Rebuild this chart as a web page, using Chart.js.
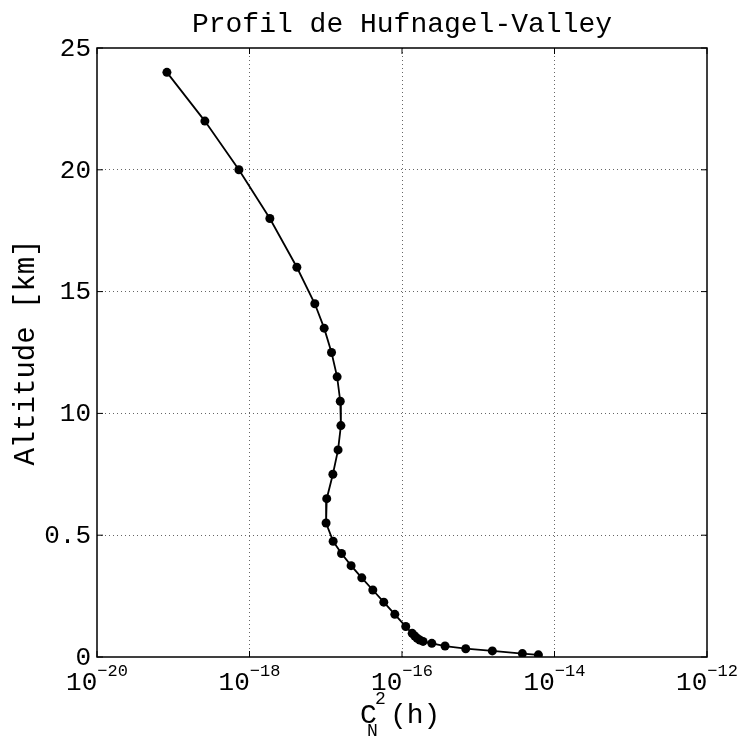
<!DOCTYPE html>
<html>
<head>
<meta charset="utf-8">
<script src="https://cdn.jsdelivr.net/npm/chart.js@4/dist/chart.umd.min.js"></script>
<style>
  html, body { margin: 0; padding: 0; background: #fff; }
  #wrap { width: 739px; height: 738px; }
</style>
</head>
<body>
<div id="wrap"><canvas id="c" width="739" height="738"></canvas></div>
<script>
// ---- data ----
const chartTitle = 'Profil de Hufnagel-Valley';
const yAxisTitle = 'Altitude [km]';
// vertical position on the altitude axis (axis units, as plotted)
const altitudeAxis = [24, 22, 20, 18, 16, 14.5, 13.5, 12.5, 11.5, 10.5,
  9.5, 8.5, 7.5, 6.5, 5.5, 4.75, 4.25, 3.75, 3.25, 2.75,
  2.25, 1.75, 1.25, 0.97, 0.86, 0.77, 0.70, 0.64, 0.56, 0.45,
  0.34, 0.25, 0.14, 0.09];
// Cn^2(h) values
const cn2Values = [8.26e-20, 2.60e-19, 7.26e-19, 1.85e-18, 4.18e-18, 7.19e-18, 9.53e-18, 1.19e-17, 1.41e-17, 1.55e-17,
  1.58e-17, 1.45e-17, 1.24e-17, 1.03e-17, 1.01e-17, 1.25e-17, 1.61e-17, 2.15e-17, 2.97e-17, 4.14e-17,
  5.77e-17, 8.05e-17, 1.12e-16, 1.36e-16, 1.47e-16, 1.58e-16, 1.71e-16, 1.89e-16, 2.46e-16, 3.67e-16,
  6.85e-16, 1.53e-15, 3.79e-15, 6.15e-15];
const yTickValues = [0, 5, 10, 15, 20, 25];
const yTickLabels = ['0', '0.5', '10', '15', '20', '25'];
const xTickValues = [1e-20, 1e-18, 1e-16, 1e-14, 1e-12];
const xTickExponents = ['\u221220', '\u221218', '\u221216', '\u221214', '\u221212'];

const FONT = '"Liberation Mono", "DejaVu Sans Mono", monospace';

const matlabDecor = {
  id: 'matlabDecor',
  afterDraw(chart) {
    const { ctx, chartArea: a, scales: { x, y } } = chart;
    ctx.save();
    // box
    ctx.strokeStyle = '#000';
    ctx.lineWidth = 1.5;
    ctx.strokeRect(a.left, a.top, a.right - a.left, a.bottom - a.top);
    // inward tick marks
    const tl = 6;
    ctx.lineWidth = 1;
    ctx.beginPath();
    xTickValues.forEach(v => {
      const px = x.getPixelForValue(v);
      ctx.moveTo(px, a.bottom); ctx.lineTo(px, a.bottom - tl);
      ctx.moveTo(px, a.top); ctx.lineTo(px, a.top + tl);
    });
    yTickValues.forEach(v => {
      const py = y.getPixelForValue(v);
      ctx.moveTo(a.left, py); ctx.lineTo(a.left + tl, py);
      ctx.moveTo(a.right, py); ctx.lineTo(a.right - tl, py);
    });
    ctx.stroke();

    ctx.fillStyle = '#000';
    // title
    ctx.font = '28px ' + FONT;
    ctx.textAlign = 'center';
    ctx.textBaseline = 'alphabetic';
    ctx.fillText(chartTitle, (a.left + a.right) / 2, 32);

    // y tick labels
    ctx.font = '26px ' + FONT;
    ctx.textAlign = 'right';
    ctx.textBaseline = 'middle';
    yTickValues.forEach((v, i) => {
      ctx.fillText(yTickLabels[i], a.left - 6, y.getPixelForValue(v) + 1);
    });

    // x tick labels: 10^exp
    ctx.textAlign = 'left';
    ctx.textBaseline = 'alphabetic';
    xTickValues.forEach((v, i) => {
      const px = x.getPixelForValue(v);
      ctx.font = '26px ' + FONT;
      const wBase = ctx.measureText('10').width;
      ctx.font = '17px ' + FONT;
      const wExp = ctx.measureText(xTickExponents[i]).width;
      const start = px - (wBase + wExp) / 2;
      ctx.font = '26px ' + FONT;
      ctx.fillText('10', start, 690);
      ctx.font = '17px ' + FONT;
      ctx.fillText(xTickExponents[i], start + wBase, 676);
    });

    // x axis title: C_N^2(h)
    const cx = (a.left + a.right) / 2;
    const s0 = cx - 42;
    ctx.font = '28px ' + FONT;
    ctx.fillText('C', s0, 723);
    ctx.font = '18px ' + FONT;
    ctx.fillText('N', s0 + 7, 736);
    ctx.fillText('2', s0 + 15, 704);
    ctx.font = '28px ' + FONT;
    ctx.fillText('(h)', s0 + 30, 723);

    // y axis title
    ctx.save();
    ctx.translate(26, (a.top + a.bottom) / 2);
    ctx.rotate(-Math.PI / 2);
    ctx.font = '29px ' + FONT;
    ctx.textAlign = 'center';
    ctx.textBaseline = 'middle';
    ctx.fillText(yAxisTitle, 0, 0);
    ctx.restore();

    ctx.restore();
  }
};

const edgeTransparent = (ticksArr) => (c) => {
  const n = ticksArr.length;
  return (c.index === 0 || c.index === n - 1) ? 'rgba(0,0,0,0)' : 'rgba(0,0,0,0.6)';
};

new Chart(document.getElementById('c'), {
  type: 'scatter',
  data: {
    datasets: [{
      data: cn2Values.map((v, i) => ({ x: v, y: altitudeAxis[i] })),
      showLine: true,
      borderColor: '#000',
      borderWidth: 1.8,
      pointRadius: 4.5,
      pointHoverRadius: 4.5,
      pointBackgroundColor: '#000',
      pointBorderColor: '#000',
      pointBorderWidth: 0,
      tension: 0
    }]
  },
  options: {
    responsive: false,
    devicePixelRatio: 1,
    animation: false,
    events: [],
    layout: { padding: { left: 97, right: 32, top: 48, bottom: 81 } },
    plugins: { legend: { display: false }, title: { display: false }, tooltip: { enabled: false } },
    scales: {
      x: {
        type: 'logarithmic',
        min: 1e-20,
        max: 1e-12,
        afterBuildTicks: (s) => { s.ticks = xTickValues.map(v => ({ value: v })); },
        ticks: { display: false },
        grid: { drawTicks: false, color: edgeTransparent(xTickValues), lineWidth: 1 },
        border: { display: false, dash: [1, 3] }
      },
      y: {
        type: 'linear',
        min: 0,
        max: 25,
        afterBuildTicks: (s) => { s.ticks = yTickValues.map(v => ({ value: v })); },
        ticks: { display: false },
        grid: { drawTicks: false, color: edgeTransparent(yTickValues), lineWidth: 1 },
        border: { display: false, dash: [1, 3] }
      }
    }
  },
  plugins: [matlabDecor]
});
</script>
</body>
</html>
